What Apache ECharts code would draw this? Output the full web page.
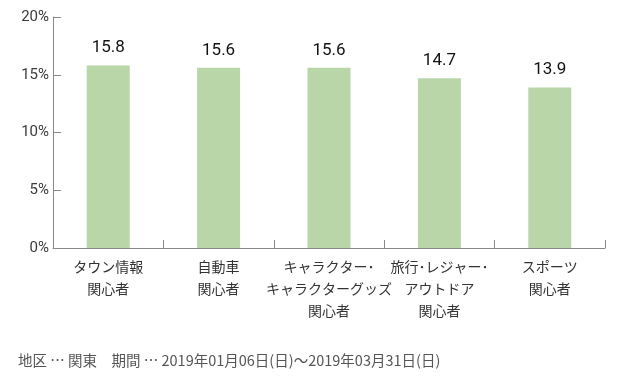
<!DOCTYPE html>
<html><head><meta charset="utf-8">
<script src="https://cdn.jsdelivr.net/npm/echarts@6/dist/echarts.min.js"></script>
<style>html,body{margin:0;padding:0;background:#fff}#c{width:619px;height:381px}</style>
</head><body><div id="c"></div>
<script>
const categories = ['タウン情報\n関心者', '自動車\n関心者', 'キャラクター･\nキャラクターグッズ\n関心者', '旅行･レジャー･\nアウトドア\n関心者', 'スポーツ\n関心者'];
const values = [15.8, 15.6, 15.6, 14.7, 13.9];
const yTicks = [0, 5, 10, 15, 20];
const footnote = '地区 … 関東　期間 … 2019年01月06日(日)～2019年03月31日(日)';

const chart = echarts.init(document.getElementById('c'));
const font = '"Noto Sans CJK JP", "Noto Sans", sans-serif';
const numFont = 'Roboto, "Noto Sans", sans-serif';
chart.setOption({
  animation: false,
  textStyle: { fontFamily: font },
  grid: { left: 53, right: 14, top: 17, bottom: 133 },
  xAxis: {
    type: 'category', data: categories,
    axisLine: { lineStyle: { color: '#888', width: 1 } },
    axisTick: { show: true, inside: true, length: 8, lineStyle: { color: '#888' } },
    axisLabel: { color: '#333', fontSize: 14, lineHeight: 22, margin: 8, interval: 0 }
  },
  yAxis: {
    type: 'value', min: yTicks[0], max: yTicks[yTicks.length - 1], interval: 5,
    axisLine: { show: true, lineStyle: { color: '#888', width: 1 } },
    axisTick: { show: true, inside: true, length: 8, lineStyle: { color: '#888' } },
    splitLine: { show: false },
    axisLabel: { color: '#3a3a3a', fontSize: 15, margin: 4, fontFamily: numFont, formatter: '{value}%' }
  },
  series: [{
    type: 'bar', data: values, barWidth: 43,
    itemStyle: { color: '#b8d6a8' },
    label: { show: true, position: 'top', distance: 9, color: '#111', fontSize: 17, fontFamily: numFont, formatter: p => p.value.toFixed(1) }
  }],
  graphic: [{
    type: 'text', left: 18, top: 353,
    style: { text: footnote, fill: '#555', fontSize: 14.5, fontFamily: font }
  }]
});
</script></body></html>
